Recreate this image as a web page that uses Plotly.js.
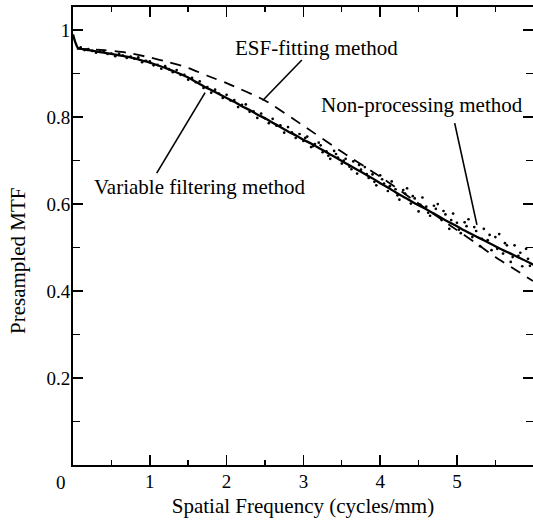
<!DOCTYPE html>
<html>
<head>
<meta charset="utf-8">
<script src="https://cdn.plot.ly/plotly-3.0.1.min.js"></script>
<style>html,body{margin:0;padding:0;background:#fff;}#chart{width:533px;height:528px;}</style>
</head>
<body>
<div id="chart"></div>
<script>
// Variable filtering method (solid)
const vfX = [0.0, 0.03, 0.06, 0.1, 0.2, 0.3, 0.4, 0.5, 0.6, 0.7, 0.8, 0.9, 1.0, 1.1, 1.2, 1.3, 1.4, 1.5, 1.6, 1.7, 1.8, 1.9, 2.0, 2.1, 2.2, 2.3, 2.4, 2.5, 2.6, 2.7, 2.8, 2.9, 3.0, 3.1, 3.2, 3.3, 3.4, 3.5, 3.6, 3.7, 3.8, 3.9, 4.0, 4.1, 4.2, 4.3, 4.4, 4.5, 4.6, 4.7, 4.8, 4.9, 5.0, 5.1, 5.2, 5.3, 5.4, 5.5, 5.6, 5.7, 5.8, 5.9, 6.0];
const vfY = [0.990, 0.972, 0.960, 0.957, 0.954, 0.951, 0.948, 0.945, 0.942, 0.939, 0.935, 0.930, 0.925, 0.919, 0.913, 0.906, 0.899, 0.891, 0.881, 0.871, 0.862, 0.853, 0.844, 0.835, 0.825, 0.816, 0.806, 0.797, 0.787, 0.777, 0.767, 0.758, 0.748, 0.739, 0.729, 0.719, 0.709, 0.699, 0.689, 0.679, 0.669, 0.659, 0.648, 0.638, 0.627, 0.617, 0.607, 0.597, 0.588, 0.578, 0.568, 0.558, 0.549, 0.539, 0.530, 0.521, 0.512, 0.503, 0.494, 0.486, 0.477, 0.469, 0.460];

// ESF-fitting method (dashed)
const esfX = [0.05, 0.4, 0.7, 1.0, 1.25, 1.5, 1.75, 2.0, 2.5, 3.0, 3.5, 4.0, 4.5, 5.0, 5.25, 5.5, 5.75, 5.99];
const esfY = [0.957, 0.954, 0.948, 0.937, 0.926, 0.913, 0.895, 0.878, 0.838, 0.780, 0.720, 0.663, 0.601, 0.540, 0.510, 0.478, 0.450, 0.423];

// Non-processing method (dots)
const npX = [0.10, 0.15, 0.20, 0.25, 0.30, 0.35, 0.40, 0.45, 0.50, 0.55, 0.60, 0.65, 0.70, 0.75, 0.80, 0.85, 0.90, 0.95, 1.00, 1.05, 1.10, 1.15, 1.20, 1.25, 1.30, 1.35, 1.40, 1.45, 1.50, 1.55, 1.60, 1.65, 1.70, 1.75, 1.80, 1.85, 1.90, 1.95, 2.00, 2.05, 2.10, 2.15, 2.20, 2.25, 2.30, 2.35, 2.40, 2.45, 2.50, 2.55, 2.60, 2.65, 2.70, 2.75, 2.80, 2.85, 2.90, 2.95, 3.00, 3.05, 3.10, 3.15, 3.20, 3.25, 3.30, 3.35, 3.40, 3.45, 3.50, 3.55, 3.60, 3.65, 3.70, 3.75, 3.80, 3.85, 3.90, 3.95, 4.00, 4.05, 4.10, 4.15, 4.20, 4.25, 4.30, 4.35, 4.40, 4.45, 4.50, 4.55, 4.60, 4.65, 4.70, 4.75, 4.80, 4.85, 4.90, 4.95, 5.00, 5.05, 5.10, 5.15, 5.20, 5.25, 5.30, 5.35, 5.40, 5.45, 5.50, 5.55, 5.60, 5.65, 5.70, 5.75, 5.80, 5.85, 5.90, 5.95,
  3.025, 3.125, 3.225, 3.325, 3.425, 3.525, 3.625, 3.725, 3.825, 3.925, 4.025, 4.125, 4.225, 4.325, 4.425, 4.525, 4.625, 4.725, 4.825, 4.925, 5.025, 5.125, 5.225, 5.325, 5.425, 5.525, 5.625, 5.725, 5.825, 5.925];
const npY = [0.960, 0.954, 0.956, 0.952, 0.948, 0.951, 0.952, 0.945, 0.946, 0.940, 0.945, 0.941, 0.936, 0.939, 0.934, 0.937, 0.926, 0.929, 0.928, 0.919, 0.920, 0.911, 0.917, 0.910, 0.903, 0.908, 0.897, 0.897, 0.886, 0.890, 0.880, 0.882, 0.867, 0.869, 0.856, 0.863, 0.854, 0.844, 0.851, 0.838, 0.839, 0.823, 0.828, 0.829, 0.812, 0.813, 0.798, 0.808, 0.797, 0.786, 0.796, 0.780, 0.781, 0.764, 0.777, 0.765, 0.752, 0.761, 0.745, 0.755, 0.731, 0.738, 0.741, 0.719, 0.721, 0.704, 0.722, 0.707, 0.693, 0.704, 0.686, 0.698, 0.670, 0.679, 0.685, 0.660, 0.668, 0.643, 0.666, 0.647, 0.630, 0.652, 0.634, 0.610, 0.632, 0.636, 0.601, 0.613, 0.583, 0.615, 0.594, 0.573, 0.596, 0.600, 0.563, 0.576, 0.543, 0.578, 0.557, 0.533, 0.558, 0.565, 0.524, 0.538, 0.503, 0.543, 0.517, 0.494, 0.524, 0.531, 0.486, 0.505, 0.467, 0.505, 0.481, 0.457, 0.497, 0.458,
  0.752, 0.733, 0.735, 0.711, 0.715, 0.700, 0.680, 0.690, 0.669, 0.651, 0.657, 0.641, 0.620, 0.624, 0.618, 0.598, 0.580, 0.589, 0.584, 0.563, 0.541, 0.549, 0.547, 0.520, 0.529, 0.497, 0.510, 0.478, 0.488, 0.474];

const xTickVals = [1, 2, 3, 4, 5];
const xTickText = ['1', '2', '3', '4', '5'];
const yTickVals = [0.2, 0.4, 0.6, 0.8, 1.0];
const yTickText = ['0.2', '0.4', '0.6', '0.8', '1'];

const FONT = 'Liberation Serif, Times New Roman, serif';

const traces = [
  {x: npX, y: npY, mode: 'markers', type: 'scatter', name: 'Non-processing method',
   marker: {color: '#000', size: 2.7}},
  {x: vfX, y: vfY, mode: 'lines', type: 'scatter', name: 'Variable filtering method',
   line: {color: '#000', width: 2.3, shape: 'spline', smoothing: 0.6}},
  {x: esfX, y: esfY, mode: 'lines', type: 'scatter', name: 'ESF-fitting method',
   line: {color: '#000', width: 1.8, dash: '11px,8px', shape: 'spline', smoothing: 0.6}}
];

const axisCommon = {
  showgrid: false, zeroline: false, showline: true, linecolor: '#000', linewidth: 2,
  mirror: 'ticks', ticks: 'inside', tickcolor: '#000', tickwidth: 1.6, ticklen: 10,
  tickfont: {family: FONT, size: 19, color: '#000'}
};

const layout = {
  width: 533, height: 528,
  margin: {l: 73, r: 0, t: 7, b: 63},
  paper_bgcolor: '#fff', plot_bgcolor: '#fff',
  showlegend: false,
  font: {family: FONT, color: '#000'},
  xaxis: Object.assign({}, axisCommon, {
    range: [0, 5.99], tickmode: 'array', tickvals: xTickVals, ticktext: xTickText,
    ticklabelstandoff: -2,
    minor: {dtick: 0.5, tick0: 0, ticks: 'inside', ticklen: 5, tickcolor: '#000', tickwidth: 1.4},
    title: {text: 'Spatial Frequency (cycles/mm)', font: {family: FONT, size: 21, color: '#000'}, standoff: 8}
  }),
  yaxis: Object.assign({}, axisCommon, {
    range: [0, 1.053], tickmode: 'array', tickvals: yTickVals, ticktext: yTickText,
    ticklabelstandoff: -3,
    minor: {dtick: 0.1, tick0: 0, ticks: 'inside', ticklen: 7, tickcolor: '#000', tickwidth: 1.4}
  }),
  annotations: [
    {text: '0', xref: 'paper', yref: 'paper', x: -0.026, y: -0.039, showarrow: false,
     xanchor: 'center', yanchor: 'middle', font: {family: FONT, size: 19, color: '#000'}},
    {text: 'Presampled MTF', xref: 'paper', yref: 'paper', x: -0.120, y: 0.445, textangle: -90,
     showarrow: false, xanchor: 'center', yanchor: 'middle', font: {family: FONT, size: 21, color: '#000'}},
    {text: 'ESF-fitting method', xref: 'paper', yref: 'paper', x: 0.530, y: 0.910, showarrow: false,
     xanchor: 'center', yanchor: 'middle', font: {family: FONT, size: 21, color: '#000'}},
    {text: 'Non-processing method', xref: 'paper', yref: 'paper', x: 0.759, y: 0.786, showarrow: false,
     xanchor: 'center', yanchor: 'middle', font: {family: FONT, size: 21, color: '#000'}},
    {text: 'Variable filtering method', xref: 'paper', yref: 'paper', x: 0.276, y: 0.607, showarrow: false,
     xanchor: 'center', yanchor: 'middle', font: {family: FONT, size: 21, color: '#000'}}
  ],
  shapes: [
    {type: 'line', xref: 'x', yref: 'y', x0: 2.98, y0: 0.931, x1: 2.47, y1: 0.838, line: {color: '#000', width: 1.6}},
    {type: 'line', xref: 'x', yref: 'y', x0: 4.97, y0: 0.786, x1: 5.26, y1: 0.552, line: {color: '#000', width: 1.6}},
    {type: 'line', xref: 'x', yref: 'y', x0: 1.09, y0: 0.671, x1: 1.72, y1: 0.856, line: {color: '#000', width: 1.6}}
  ]
};

Plotly.newPlot('chart', traces, layout, {displayModeBar: false, staticPlot: true});
</script>
</body>
</html>
